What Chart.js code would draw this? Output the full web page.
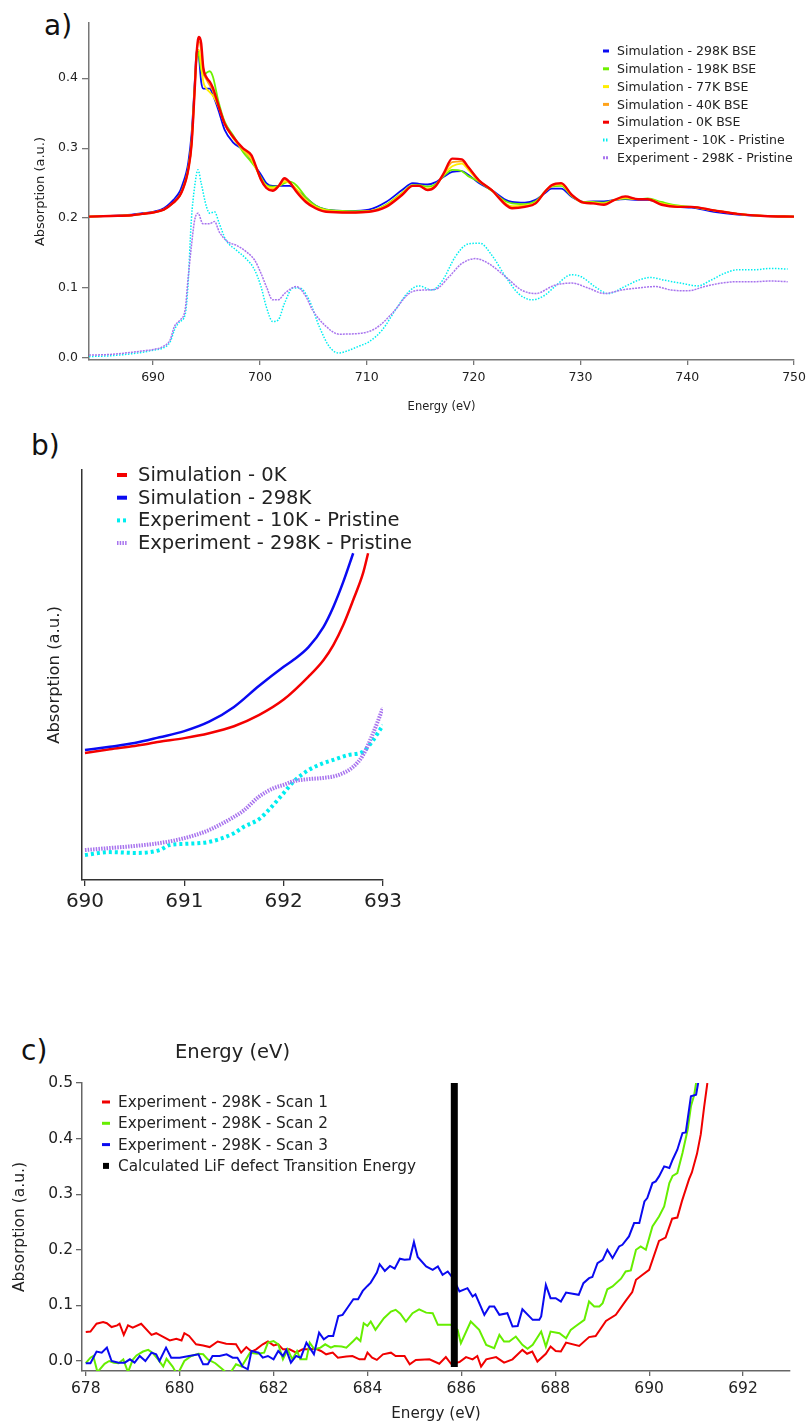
<!DOCTYPE html>
<html>
<head>
<meta charset="utf-8">
<script src="https://cdn.jsdelivr.net/npm/chart.js@4.4.1/dist/chart.umd.min.js"></script>
<style>
  body { margin: 0; background: #fff; width: 811px; height: 1423px; position: relative; overflow: hidden; font-family: 'DejaVu Sans', sans-serif; }
  canvas { position: absolute; left: 0; }
  .tag { position: absolute; font-size: 28px; line-height: 1; color: #111; }
</style>
</head>
<body>
<div class="tag" style="left:44px;top:12px">a)</div>
<div class="tag" style="left:31px;top:432px">b)</div>
<div class="tag" style="left:21px;top:1037px">c)</div>
<canvas id="chart-a" width="811" height="415" style="top:0"></canvas>
<canvas id="chart-b" width="811" height="655" style="top:415px"></canvas>
<canvas id="chart-c" width="811" height="353" style="top:1070px"></canvas>
<script>
// ---- panel a: full spectra ----
const simEnergy = [684, 686, 688, 689, 690, 691, 691.9, 692.5, 692.8, 693.1, 693.3, 693.6, 693.9, 694.05, 694.2, 694.3, 694.5, 694.7, 695.0, 695.3, 695.6, 696.1, 696.7, 697.5, 698.4, 699.2, 699.6, 700.1, 700.6, 701.2, 701.8, 702.3, 702.8, 703.4, 704.3, 705.2, 706.2, 708.4, 710.2, 711.8, 713.3, 714.3, 714.9, 715.7, 716.4, 717.2, 718.0, 718.9, 719.5, 720.5, 721.7, 723.0, 723.6, 724.8, 725.8, 726.7, 727.3, 728.2, 729.2, 730.3, 731.2, 732.2, 733.2, 734.2, 735.4, 736.3, 737.6, 739.1, 740.4, 742.5, 744.7, 747.2, 750];
const sim298 = [.202,.203,.205,.207,.209,.214,.226,.238,.25,.265,.28,.32,.395,.435,.441,.43,.395,.385,.385,.385,.376,.355,.326,.308,.298,.283,.273,.262,.25,.246,.246,.246,.246,.24,.229,.218,.212,.21,.212,.223,.24,.25,.249,.248,.251,.259,.266,.267,.262,.25,.24,.226,.223,.222,.226,.236,.242,.242,.23,.223,.224,.224,.226,.227,.226,.226,.221,.216,.215,.209,.205,.203,.202];
const sim198 = [.202,.203,.204,.206,.208,.212,.222,.233,.244,.258,.273,.31,.39,.425,.437,.432,.412,.404,.408,.41,.402,.368,.338,.318,.295,.28,.272,.258,.247,.245,.246,.25,.252,.247,.23,.218,.212,.21,.21,.219,.236,.247,.247,.245,.248,.26,.269,.267,.26,.252,.239,.224,.221,.22,.224,.238,.245,.246,.231,.223,.223,.222,.226,.228,.227,.228,.223,.218,.216,.211,.206,.203,.202];
const sim77 = [.202,.203,.204,.206,.208,.212,.222,.232,.242,.256,.27,.305,.385,.43,.44,.44,.42,.395,.385,.38,.375,.36,.335,.314,.298,.284,.272,.256,.246,.243,.246,.252,.25,.242,.226,.216,.211,.209,.21,.218,.235,.246,.246,.242,.246,.262,.274,.278,.269,.253,.24,.221,.217,.218,.222,.238,.246,.248,.232,.222,.222,.221,.226,.229,.227,.227,.221,.217,.216,.211,.206,.203,.202];
const sim40 = [.202,.203,.204,.206,.208,.212,.222,.232,.242,.256,.27,.305,.385,.432,.45,.452,.44,.41,.398,.39,.382,.361,.335,.315,.299,.288,.274,.255,.244,.241,.246,.255,.25,.24,.224,.215,.21,.208,.209,.217,.234,.246,.246,.241,.245,.263,.28,.281,.272,.254,.24,.22,.215,.217,.221,.238,.246,.249,.233,.222,.221,.22,.226,.23,.227,.227,.22,.216,.216,.211,.206,.203,.202];
const sim0 = [.202,.203,.204,.206,.208,.212,.222,.232,.242,.256,.27,.305,.385,.43,.455,.459,.45,.415,.401,.395,.386,.362,.335,.316,.3,.29,.275,.255,.243,.239,.247,.257,.251,.238,.223,.214,.209,.208,.209,.216,.233,.246,.246,.24,.245,.264,.285,.284,.273,.254,.24,.219,.214,.216,.221,.238,.247,.25,.233,.222,.221,.219,.226,.231,.227,.227,.219,.216,.216,.211,.206,.203,.202];

const exp10Energy = [684, 686, 688, 689, 690, 690.9, 691.6, 692.0, 692.2, 692.5, 693.0, 693.26, 693.58, 693.89, 694.2, 694.5, 695.0, 695.3, 695.75, 696.2, 696.8, 697.8, 698.7, 699.5, 700.1, 700.6, 701.2, 701.7, 702.3, 703.1, 703.7, 704.6, 705.55, 706.5, 707.4, 708.35, 709.3, 710.2, 711.45, 712.7, 713.95, 714.9, 716.1, 717.1, 718.3, 719.5, 720.6, 721.7, 723, 724.2, 725.5, 726.7, 727.6, 729.2, 730.1, 731.35, 732.6, 734.15, 735.4, 736.6, 737.9, 739.4, 741, 742.2, 743.5, 744.7, 746.3, 747.8, 749.4];
const exp10 = [.002,.003,.006,.008,.011,.014,.023,.04,.046,.052,.062,.102,.197,.245,.269,.25,.216,.207,.209,.192,.169,.154,.142,.126,.102,.073,.052,.054,.078,.1,.1,.083,.045,.016,.007,.011,.017,.023,.04,.069,.095,.103,.097,.111,.145,.163,.164,.147,.116,.092,.083,.09,.102,.119,.116,.102,.092,.102,.111,.115,.111,.107,.103,.111,.121,.126,.126,.128,.127];
const exp298Energy = [684, 686, 688, 689, 690, 690.9, 691.6, 692.0, 692.5, 693.0, 693.26, 693.58, 693.89, 694.2, 694.66, 695.29, 695.75, 696.2, 697.0, 697.8, 698.7, 699.5, 700.1, 700.6, 701.2, 701.7, 702.3, 703.4, 704.3, 704.9, 706.2, 707.4, 709.3, 710.8, 712.4, 713.95, 715.2, 716.4, 717.7, 718.9, 720.2, 721.4, 723, 724.5, 725.8, 727.6, 729.2, 730.7, 732.3, 733.8, 735.4, 737, 738.5, 740.1, 741.6, 743.2, 744.7, 746.3, 747.8, 749.4];
const exp298 = [.004,.005,.008,.01,.012,.016,.026,.045,.054,.069,.111,.159,.197,.207,.192,.192,.195,.18,.166,.161,.152,.14,.121,.102,.083,.083,.092,.102,.088,.069,.045,.034,.035,.042,.064,.092,.097,.098,.116,.135,.142,.135,.116,.097,.092,.104,.107,.1,.092,.097,.1,.102,.097,.096,.102,.107,.109,.109,.11,.109];

const aEnergyTicks = [690, 700, 710, 720, 730, 740, 750];
const aAbsTicks = [0, 0.1, 0.2, 0.3, 0.4];

// ---- panel b: pre-edge zoom (arbitrary units) ----
const bSim0Energy = [690, 690.25, 690.5, 690.75, 691, 691.25, 691.5, 691.75, 692, 692.25, 692.4, 692.5, 692.6, 692.7, 692.8, 692.85];
const bSim0 = [.31,.319,.327,.337,.346,.358,.375,.402,.44,.496,.536,.573,.622,.683,.749,.797];
const bSim298Energy = [690, 690.25, 690.5, 690.75, 691, 691.25, 691.5, 691.75, 692, 692.1, 692.25, 692.4, 692.5, 692.6, 692.7];
const bSim298 = [.317,.325,.334,.348,.363,.386,.422,.473,.52,.537,.568,.617,.666,.727,.797];
const bExp10Energy = [690, 690.25, 690.5, 690.75, 690.85, 691, 691.25, 691.5, 691.6, 691.75, 691.85, 692, 692.1, 692.25, 692.4, 692.5, 692.65, 692.8, 692.9, 693];
const bExp10 = [.061,.068,.066,.073,.085,.088,.093,.114,.13,.148,.171,.212,.24,.268,.285,.293,.305,.313,.341,.378];
const bExp298Energy = [690, 690.25, 690.5, 690.75, 691, 691.25, 691.5, 691.6, 691.75, 691.9, 692, 692.1, 692.25, 692.4, 692.55, 692.7, 692.8, 692.9, 693];
const bExp298 = [.073,.078,.083,.09,.102,.122,.154,.17,.203,.224,.232,.241,.246,.249,.256,.276,.305,.358,.42];
const bEnergyTicks = [690, 691, 692, 693];

// ---- panel c: 298K scans ----
const scan1Energy = [678.0,678.1,678.23,678.37,678.45,678.55,678.67,678.72,678.81,678.9,679.0,679.18,679.4,679.5,679.64,679.79,679.93,680.04,680.1,680.2,680.35,680.5,680.64,680.81,680.99,681.2,681.31,681.42,681.53,681.63,681.77,681.88,682.0,682.1,682.2,682.34,682.48,682.62,682.77,682.9,683.01,683.12,683.26,683.37,683.55,683.68,683.83,683.94,684.0,684.1,684.2,684.33,684.5,684.6,684.79,684.9,685.03,685.32,685.53,685.67,685.78,685.96,686.1,686.24,686.34,686.42,686.53,686.74,686.91,687.09,687.3,687.4,687.51,687.62,687.8,687.9,688.01,688.12,688.23,688.51,688.72,688.86,689.08,689.29,689.5,689.64,689.72,689.86,690.0,690.21,690.35,690.49,690.6,690.7,690.85,690.91,691.02,691.1,691.17,691.24];
const scan1 = [.052,.053,.067,.07,.068,.061,.064,.067,.047,.064,.06,.067,.047,.05,.044,.037,.04,.037,.05,.045,.03,.028,.025,.035,.031,.03,.015,.025,.017,.021,.03,.035,.028,.03,.021,.021,.015,.021,.021,.022,.018,.012,.015,.006,.008,.009,.003,.003,.015,.006,.002,.012,.015,.009,.009,-.006,.002,.003,-.005,.007,-.005,-.002,.007,.003,.009,-.01,.003,.007,-.003,.003,.02,.013,.017,-.001,.013,.026,.018,.017,.033,.027,.043,.045,.072,.083,.108,.124,.146,.155,.164,.216,.222,.256,.258,.288,.327,.339,.373,.408,.456,.5];
const scan2Energy = [678.0,678.1,678.16,678.25,678.4,678.5,678.6,678.7,678.8,678.9,679.0,679.08,679.22,679.33,679.42,679.54,679.65,679.72,679.85,679.95,680.1,680.25,680.4,680.5,680.6,680.76,680.9,681.05,681.2,681.32,681.5,681.65,681.8,681.88,682.0,682.1,682.2,682.3,682.4,682.5,682.57,682.7,682.77,682.87,683.0,683.1,683.22,683.3,683.45,683.55,683.7,683.77,683.85,683.92,684.0,684.07,684.17,684.35,684.5,684.6,684.7,684.82,684.96,685.1,685.25,685.39,685.5,685.78,685.92,685.99,686.2,686.38,686.53,686.7,686.81,686.91,687.02,687.16,687.3,687.41,687.52,687.7,687.8,687.9,688.09,688.23,688.33,688.44,688.62,688.72,688.83,688.94,689.01,689.11,689.22,689.4,689.5,689.61,689.72,689.82,689.93,690.07,690.21,690.32,690.43,690.5,690.6,690.71,690.82,690.89,690.96,691.0];
const scan2 = [-.004,.006,.009,-.02,-.005,0,-.003,-.004,.003,-.02,.002,.01,.017,.02,.015,.003,-.01,.004,-.01,-.025,0,.009,.013,.012,.003,-.004,-.014,-.025,-.006,-.01,.015,.013,.015,.033,.036,.03,.003,.021,.003,.018,.003,.003,.033,.021,.024,.03,.024,.027,.026,.024,.036,.042,.036,.068,.063,.071,.056,.077,.089,.092,.085,.071,.086,.093,.087,.086,.065,.065,.056,.032,.071,.056,.029,.023,.047,.035,.035,.044,.029,.022,.029,.053,.026,.053,.05,.041,.056,.063,.074,.107,.098,.098,.104,.129,.134,.148,.161,.163,.2,.206,.2,.242,.26,.278,.32,.333,.338,.374,.416,.458,.479,.5];
const scan3Energy = [678.0,678.1,678.23,678.34,678.45,678.55,678.7,678.83,678.94,679.04,679.15,679.27,679.4,679.5,679.57,679.71,679.82,680.0,680.2,680.4,680.5,680.6,680.7,680.85,681.0,681.13,681.23,681.34,681.45,681.53,681.68,681.77,681.88,682.0,682.1,682.2,682.27,682.37,682.48,682.58,682.7,682.77,682.86,682.97,683.07,683.17,683.27,683.38,683.47,683.6,683.7,683.8,683.9,684.0,684.07,684.2,684.26,684.37,684.48,684.58,684.69,684.79,684.9,684.99,685.07,685.25,685.39,685.5,685.6,685.71,685.82,685.96,686.13,686.24,686.3,686.49,686.6,686.7,686.81,686.98,687.09,687.2,687.3,687.52,687.66,687.7,687.8,687.9,688.01,688.12,688.23,688.5,688.6,688.72,688.79,688.9,689.01,689.11,689.22,689.36,689.43,689.57,689.68,689.79,689.9,689.96,690.07,690.14,690.21,690.32,690.43,690.5,690.6,690.71,690.78,690.89,691.0,691.05];
const scan3 = [-.004,-.004,.017,.015,.024,0,-.003,-.003,.003,-.003,.009,0,.015,.012,0,.024,.006,.006,.009,.012,-.006,-.006,.009,.009,.012,.006,.006,-.01,-.015,.018,.015,.006,.009,.003,.018,.009,.02,-.003,.009,.006,.033,.024,.012,.051,.039,.045,.045,.081,.083,.099,.111,.111,.126,.135,.141,.159,.174,.162,.171,.166,.184,.182,.183,.214,.187,.17,.164,.17,.155,.161,.149,.125,.131,.116,.12,.083,.098,.098,.083,.086,.062,.063,.093,.074,.074,.08,.137,.113,.113,.107,.123,.119,.14,.149,.151,.176,.182,.2,.185,.206,.209,.224,.248,.248,.287,.293,.32,.323,.332,.35,.347,.362,.38,.41,.411,.476,.479,.503];
const lifEnergy = [685.85, 685.85];
const lifMark = [-0.011, 0.5];
const cEnergyTicks = [678, 680, 682, 684, 686, 688, 690, 692];
const cAbsTicks = [0, 0.1, 0.2, 0.3, 0.4, 0.5];

const FONT = 'DejaVu Sans';
const pts = (xs, ys) => xs.map((x, i) => ({x: x, y: ys[i]}));

// legend drawn as Igor-style text block inside the plot
const panelLegend = {
  id: 'panelLegend',
  afterDraw(chart, args, o) {
    const ctx = chart.ctx;
    ctx.save();
    ctx.font = o.size + 'px "' + FONT + '"';
    ctx.textBaseline = 'middle';
    chart.data.datasets.forEach((ds, i) => {
      const y = o.y + i * o.dy;
      if (ds.legendSquare) {
        ctx.fillStyle = ds.borderColor;
        ctx.fillRect(o.sx + 1, y - 3, 6, 6);
      } else {
        ctx.strokeStyle = ds.borderColor;
        ctx.lineWidth = o.thick;
        ctx.setLineDash(ds.borderDash || []);
        ctx.beginPath();
        ctx.moveTo(o.sx, y);
        ctx.lineTo(o.sx + o.sw, y);
        ctx.stroke();
        ctx.setLineDash([]);
      }
      ctx.fillStyle = '#222';
      ctx.fillText(ds.label, o.tx, y + 1);
    });
    ctx.restore();
  }
};

function axis(o) {
  return {
    type: 'linear',
    min: o.min,
    max: o.max,
    afterBuildTicks: s => { if (o.ticks) s.ticks = o.ticks.map(v => ({value: v})); },
    afterFit: s => { if (s.isHorizontal()) s.height = o.size; else s.width = o.size; },
    grid: {display: o.ticks != null, drawOnChartArea: false, tickLength: o.tickLen || 6, color: o.color, lineWidth: 1.3},
    border: {display: true, color: o.color, width: 1.5},
    ticks: {display: o.ticks != null, font: {family: FONT, size: o.font}, color: '#222', padding: o.pad || 3,
            maxRotation: 0, autoSkip: false, callback: o.fmt || (v => v)},
    title: {display: true, text: o.title, color: '#222', font: {family: FONT, size: o.titleSize},
            padding: {top: o.titlePad, bottom: o.titlePad}}
  };
}

function lineSet(label, data, color, width, dash, smooth) {
  return {
    label: label, data: data, borderColor: color, backgroundColor: color,
    borderWidth: width, borderDash: dash || [], pointRadius: 0, fill: false,
    cubicInterpolationMode: smooth ? 'monotone' : 'default', tension: 0
  };
}

function stackOrder(sets) { sets.forEach((d, i) => { d.order = sets.length - i; }); return sets; }

// panel a
const setsA = stackOrder([
  lineSet('Simulation - 298K BSE', pts(simEnergy, sim298), '#0a0af2', 1.8, null, true),
  lineSet('Simulation - 198K BSE', pts(simEnergy, sim198), '#6ef000', 1.8, null, true),
  lineSet('Simulation - 77K BSE', pts(simEnergy, sim77), '#ffee00', 1.8, null, true),
  lineSet('Simulation - 40K BSE', pts(simEnergy, sim40), '#ffa31a', 1.8, null, true),
  lineSet('Simulation - 0K BSE', pts(simEnergy, sim0), '#f40000', 2.4, null, true),
  lineSet('Experiment - 10K - Pristine', pts(exp10Energy, exp10), '#00eef0', 1.5, [1.5, 1.5], true),
  lineSet('Experiment - 298K - Pristine', pts(exp298Energy, exp298), '#a874ee', 1.5, [2, 1], true)
]);
new Chart(document.getElementById('chart-a'), {
  type: 'line',
  data: {datasets: setsA},
  options: {
    responsive: false, animation: false, devicePixelRatio: 1,
    layout: {padding: {left: 0, top: 23, right: 14, bottom: 0}},
    plugins: {legend: {display: false}, tooltip: {enabled: false},
              panelLegend: {size: 12.5, y: 51, dy: 17.8, sx: 603, sw: 6, tx: 617, thick: 3}},
    scales: {
      x: axis({min: 684, max: 750, ticks: aEnergyTicks, size: 55, font: 12.5, color: '#777', tickLen: 5, pad: 5,
               title: 'Energy (eV)', titleSize: 11.5, titlePad: 1.5}),
      y: axis({min: -0.003, max: 0.479, ticks: aAbsTicks, size: 89, font: 12.5, color: '#777', tickLen: 7, pad: 4,
               fmt: v => v.toFixed(1), title: 'Absorption (a.u.)', titleSize: 13, titlePad: 33})
    }
  },
  plugins: [panelLegend]
});

// panel b
const setsB = stackOrder([
  lineSet('Simulation - 0K', pts(bSim0Energy, bSim0), '#f40000', 2.5, null, true),
  lineSet('Simulation - 298K', pts(bSim298Energy, bSim298), '#0a0af2', 2.5, null, true),
  lineSet('Experiment - 10K - Pristine', pts(bExp10Energy, bExp10), '#00eef0', 4, [3, 3], true),
  lineSet('Experiment - 298K - Pristine', pts(bExp298Energy, bExp298), '#a874ee', 4, [1.5, 1.2], true)
]);
new Chart(document.getElementById('chart-b'), {
  type: 'line',
  data: {datasets: setsB},
  options: {
    responsive: false, animation: false, devicePixelRatio: 1,
    layout: {padding: {left: 0, top: 55, right: 428, bottom: 0}},
    plugins: {legend: {display: false}, tooltip: {enabled: false},
              panelLegend: {size: 19.5, y: 60, dy: 22.7, sx: 117, sw: 10, tx: 138, thick: 4}},
    scales: {
      x: axis({min: 689.97, max: 693, ticks: bEnergyTicks, size: 190, font: 20, color: '#333', tickLen: 6, pad: 4,
               title: 'Energy (eV)', titleSize: 19.5, titlePad: 5}),
      y: axis({min: 0, max: 1, ticks: null, size: 82, font: 16, color: '#333',
               title: 'Absorption (a.u.)', titleSize: 16.4, titlePad: 45})
    }
  },
  plugins: [panelLegend]
});

// panel c
const lifSet = lineSet('Calculated LiF defect Transition Energy', pts(lifEnergy, lifMark), '#000000', 7, null, false);
lifSet.legendSquare = true;
const setsC = stackOrder([
  lineSet('Experiment - 298K - Scan 1', pts(scan1Energy, scan1), '#f00000', 2, null, false),
  lineSet('Experiment - 298K - Scan 2', pts(scan2Energy, scan2), '#66ee00', 2, null, false),
  lineSet('Experiment - 298K - Scan 3', pts(scan3Energy, scan3), '#0a0af0', 2, null, false),
  lifSet
]);
new Chart(document.getElementById('chart-c'), {
  type: 'line',
  data: {datasets: setsC},
  options: {
    responsive: false, animation: false, devicePixelRatio: 1,
    layout: {padding: {left: 0, top: 13, right: 21, bottom: 0}},
    plugins: {legend: {display: false}, tooltip: {enabled: false},
              panelLegend: {size: 15.3, y: 32, dy: 21.3, sx: 102, sw: 8, tx: 118, thick: 3}},
    scales: {
      x: axis({min: 677.92, max: 693, ticks: cEnergyTicks, size: 52, font: 15.5, color: '#666', tickLen: 5, pad: 4,
               title: 'Energy (eV)', titleSize: 15.2, titlePad: 0}),
      y: axis({min: -0.018, max: 0.5, ticks: cAbsTicks, size: 82, font: 15.5, color: '#666', tickLen: 6, pad: 3,
               fmt: v => v.toFixed(1), title: 'Absorption (a.u.)', titleSize: 15.5, titlePad: 11})
    }
  },
  plugins: [panelLegend]
});
</script>
</body>
</html>
